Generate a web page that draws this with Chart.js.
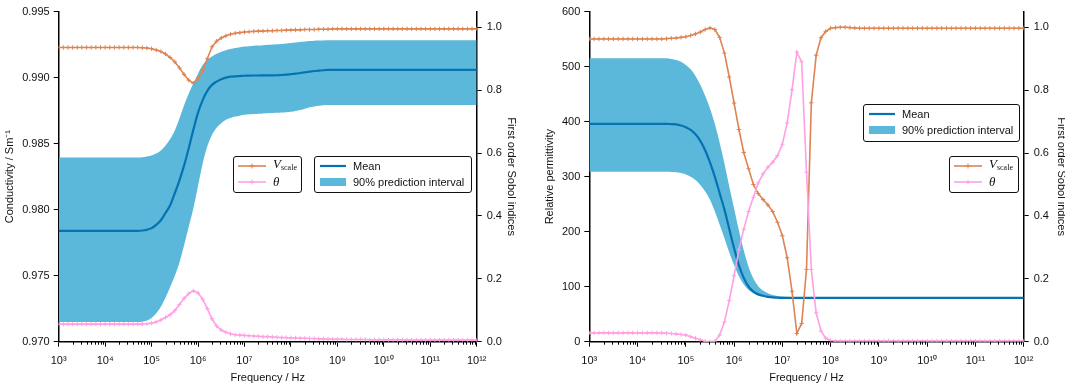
<!DOCTYPE html>
<html>
<head>
<meta charset="utf-8">
<script src="https://cdn.jsdelivr.net/npm/chart.js@4.4.0/dist/chart.umd.min.js"></script>
<style>
  html, body { margin: 0; padding: 0; background: #fff; overflow: hidden; }
  body { width: 1065px; height: 387px; position: relative; font-family: "Liberation Sans", Arial, sans-serif; }
  canvas { position: absolute; top: 0; }
  #cond-chart { left: 0; }
  #perm-chart { left: 539px; }
  .legend { position: absolute; box-sizing: border-box; border: 1.3px solid #111; border-radius: 3px; background: rgba(255,255,255,0.9); }
  .row { position: absolute; left: 0; height: 14px; display: flex; align-items: center; font-size: 11px; color: #111; white-space: nowrap; }
  .row.r1 { top: 2px; }
  .row.r2 { top: 18px; }
  .key { margin-left: 4px; margin-right: 7px; }
  .math { font-family: "Liberation Serif", "DejaVu Serif", serif; font-style: italic; font-size: 13px; line-height: 14px; }
  .math sub { font-style: normal; font-size: 8px; vertical-align: -2px; }
</style>
</head>
<body>
<canvas id="cond-chart" width="522" height="387"></canvas>
<canvas id="perm-chart" width="530" height="387"></canvas>

<div class="legend" style="left:233px;top:156px;width:69px;height:37px">
  <div class="row r1"><svg class="key" width="28" height="10"><line x1="0" y1="5" x2="28" y2="5" stroke="#DD8452" stroke-width="1.6"/><path d="M14 2.5V7.5M11.5 5H16.5" stroke="#DD8452" stroke-width="1"/></svg><span class="math">V<sub>scale</sub></span></div>
  <div class="row r2"><svg class="key" width="28" height="10"><line x1="0" y1="5" x2="28" y2="5" stroke="#FFA0E4" stroke-width="1.6"/><path d="M14 2.5V7.5M11.5 5H16.5" stroke="#FFA0E4" stroke-width="1"/></svg><span class="math">θ</span></div>
</div>
<div class="legend" style="left:314px;top:156px;width:158px;height:37px">
  <div class="row r1"><svg class="key" width="26" height="10" style="margin-left:5px"><line x1="0" y1="5" x2="26" y2="5" stroke="#0573B2" stroke-width="2.2"/></svg><span>Mean</span></div>
  <div class="row r2"><svg class="key" width="26" height="10" style="margin-left:5px"><rect x="0" y="1" width="26" height="8" fill="#5BB8DA"/></svg><span>90% prediction interval</span></div>
</div>

<div class="legend" style="left:863px;top:104px;width:157px;height:38px">
  <div class="row r1"><svg class="key" width="26" height="10" style="margin-left:5px"><line x1="0" y1="5" x2="26" y2="5" stroke="#0573B2" stroke-width="2.2"/></svg><span>Mean</span></div>
  <div class="row r2"><svg class="key" width="26" height="10" style="margin-left:5px"><rect x="0" y="1" width="26" height="8" fill="#5BB8DA"/></svg><span>90% prediction interval</span></div>
</div>
<div class="legend" style="left:949px;top:156px;width:70px;height:37px">
  <div class="row r1"><svg class="key" width="28" height="10"><line x1="0" y1="5" x2="28" y2="5" stroke="#DD8452" stroke-width="1.6"/><path d="M14 2.5V7.5M11.5 5H16.5" stroke="#DD8452" stroke-width="1"/></svg><span class="math">V<sub>scale</sub></span></div>
  <div class="row r2"><svg class="key" width="28" height="10"><line x1="0" y1="5" x2="28" y2="5" stroke="#FFA0E4" stroke-width="1.6"/><path d="M14 2.5V7.5M11.5 5H16.5" stroke="#FFA0E4" stroke-width="1"/></svg><span class="math">θ</span></div>
</div>

<script>
// log10 of frequency (Hz), 10 samples per decade
const logFreq = [
  3.0, 3.1, 3.2, 3.3, 3.4, 3.5, 3.6, 3.7, 3.8, 3.9,
  4.0, 4.1, 4.2, 4.3, 4.4, 4.5, 4.6, 4.7, 4.8, 4.9,
  5.0, 5.1, 5.2, 5.3, 5.4, 5.5, 5.6, 5.7, 5.8, 5.9,
  6.0, 6.1, 6.2, 6.3, 6.4, 6.5, 6.6, 6.7, 6.8, 6.9,
  7.0, 7.1, 7.2, 7.3, 7.4, 7.5, 7.6, 7.7, 7.8, 7.9,
  8.0, 8.1, 8.2, 8.3, 8.4, 8.5, 8.6, 8.7, 8.8, 8.9,
  9.0, 9.1, 9.2, 9.3, 9.4, 9.5, 9.6, 9.7, 9.8, 9.9,
  10.0, 10.1, 10.2, 10.3, 10.4, 10.5, 10.6, 10.7, 10.8, 10.9,
  11.0, 11.1, 11.2, 11.3, 11.4, 11.5, 11.6, 11.7, 11.8, 11.9,
  12.0,
];
const decades = [3, 4, 5, 6, 7, 8, 9, 10, 11, 12];
const minorSteps = [1, 2, 3, 4, 5, 6, 7, 8, 9];
const condTicks = [0.970, 0.975, 0.980, 0.985, 0.990, 0.995];
const permTicks = [0, 100, 200, 300, 400, 500, 600];
const sobolTicks = [0.0, 0.2, 0.4, 0.6, 0.8, 1.0];

// --- conductivity panel ---
const condMean = [
  0.97840, 0.97840, 0.97840, 0.97840, 0.97840, 0.97840, 0.97840, 0.97840, 0.97840, 0.97840,
  0.97840, 0.97840, 0.97840, 0.97840, 0.97840, 0.97840, 0.97840, 0.97840, 0.97842, 0.97848,
  0.97860, 0.97885, 0.97920, 0.97975, 0.98034, 0.98125, 0.98222, 0.98335, 0.98465, 0.98606,
  0.98735, 0.98830, 0.98900, 0.98945, 0.98970, 0.98988, 0.99000, 0.99007, 0.99010, 0.99012,
  0.99014, 0.99015, 0.99016, 0.99016, 0.99017, 0.99017, 0.99017, 0.99018, 0.99020, 0.99022,
  0.99026, 0.99030, 0.99035, 0.99040, 0.99045, 0.99050, 0.99053, 0.99056, 0.99058, 0.99059,
  0.99059, 0.99059, 0.99059, 0.99059, 0.99059, 0.99059, 0.99059, 0.99059, 0.99059, 0.99059,
  0.99059, 0.99059, 0.99059, 0.99059, 0.99059, 0.99059, 0.99059, 0.99059, 0.99059, 0.99059,
  0.99059, 0.99059, 0.99059, 0.99059, 0.99059, 0.99059, 0.99059, 0.99059, 0.99059, 0.99059,
  0.99059,
];
const condUpper = [
  0.98395, 0.98395, 0.98395, 0.98395, 0.98395, 0.98395, 0.98395, 0.98395, 0.98395, 0.98395,
  0.98395, 0.98395, 0.98395, 0.98395, 0.98395, 0.98395, 0.98395, 0.98395, 0.98397, 0.98402,
  0.98410, 0.98425, 0.98448, 0.98485, 0.98535, 0.98600, 0.98690, 0.98790, 0.98880, 0.98955,
  0.99030, 0.99095, 0.99135, 0.99160, 0.99180, 0.99195, 0.99207, 0.99217, 0.99224, 0.99230,
  0.99235, 0.99238, 0.99242, 0.99244, 0.99246, 0.99248, 0.99250, 0.99252, 0.99255, 0.99258,
  0.99262, 0.99266, 0.99270, 0.99274, 0.99277, 0.99279, 0.99281, 0.99282, 0.99283, 0.99283,
  0.99283, 0.99283, 0.99283, 0.99283, 0.99283, 0.99283, 0.99283, 0.99283, 0.99283, 0.99283,
  0.99283, 0.99283, 0.99283, 0.99283, 0.99283, 0.99283, 0.99283, 0.99283, 0.99283, 0.99283,
  0.99283, 0.99283, 0.99283, 0.99283, 0.99283, 0.99283, 0.99283, 0.99283, 0.99283, 0.99283,
  0.99283,
];
const condLower = [
  0.97149, 0.97149, 0.97149, 0.97149, 0.97149, 0.97149, 0.97149, 0.97149, 0.97149, 0.97149,
  0.97149, 0.97149, 0.97149, 0.97149, 0.97149, 0.97149, 0.97149, 0.97149, 0.97152, 0.97160,
  0.97180, 0.97215, 0.97265, 0.97335, 0.97415, 0.97500, 0.97600, 0.97730, 0.97870, 0.98010,
  0.98180, 0.98350, 0.98480, 0.98565, 0.98620, 0.98655, 0.98680, 0.98695, 0.98705, 0.98712,
  0.98718, 0.98722, 0.98725, 0.98727, 0.98729, 0.98731, 0.98732, 0.98733, 0.98735, 0.98738,
  0.98742, 0.98748, 0.98755, 0.98765, 0.98775, 0.98782, 0.98787, 0.98790, 0.98792, 0.98793,
  0.98793, 0.98793, 0.98793, 0.98793, 0.98793, 0.98793, 0.98793, 0.98793, 0.98793, 0.98793,
  0.98793, 0.98793, 0.98793, 0.98793, 0.98793, 0.98793, 0.98793, 0.98793, 0.98793, 0.98793,
  0.98793, 0.98793, 0.98793, 0.98793, 0.98793, 0.98793, 0.98793, 0.98793, 0.98793, 0.98793,
  0.98793,
];
const condVscale = [
  0.936, 0.936, 0.936, 0.936, 0.936, 0.936, 0.936, 0.936, 0.936, 0.936,
  0.936, 0.936, 0.936, 0.936, 0.936, 0.936, 0.936, 0.936, 0.935, 0.934,
  0.932, 0.928, 0.923, 0.915, 0.904, 0.890, 0.871, 0.850, 0.832, 0.822,
  0.837, 0.862, 0.900, 0.938, 0.956, 0.966, 0.973, 0.978, 0.981, 0.983,
  0.985, 0.986, 0.987, 0.988, 0.988, 0.989, 0.989, 0.990, 0.990, 0.991,
  0.991, 0.992, 0.992, 0.993, 0.993, 0.993, 0.994, 0.994, 0.994, 0.995,
  0.995, 0.995, 0.995, 0.995, 0.995, 0.995, 0.995, 0.995, 0.995, 0.995,
  0.995, 0.995, 0.995, 0.995, 0.995, 0.995, 0.995, 0.995, 0.995, 0.995,
  0.995, 0.995, 0.995, 0.995, 0.995, 0.995, 0.995, 0.995, 0.995, 0.995,
  0.995,
];
const condTheta = [
  0.056, 0.056, 0.056, 0.056, 0.056, 0.056, 0.056, 0.056, 0.056, 0.056,
  0.056, 0.056, 0.056, 0.056, 0.056, 0.056, 0.056, 0.056, 0.056, 0.057,
  0.059, 0.063, 0.069, 0.077, 0.086, 0.099, 0.118, 0.138, 0.153, 0.162,
  0.155, 0.135, 0.105, 0.073, 0.050, 0.037, 0.030, 0.025, 0.022, 0.021,
  0.020, 0.019, 0.018, 0.017, 0.016, 0.016, 0.015, 0.014, 0.013, 0.013,
  0.012, 0.012, 0.011, 0.011, 0.010, 0.010, 0.009, 0.009, 0.008, 0.008,
  0.008, 0.008, 0.007, 0.007, 0.007, 0.007, 0.007, 0.006, 0.006, 0.006,
  0.006, 0.006, 0.006, 0.006, 0.006, 0.005, 0.005, 0.005, 0.005, 0.005,
  0.005, 0.005, 0.005, 0.005, 0.005, 0.005, 0.005, 0.005, 0.005, 0.005,
  0.005,
];

// --- permittivity panel ---
const permMean = [
  396, 396, 396, 396, 396, 396, 396, 396, 396, 396,
  396, 396, 396, 396, 396, 396, 396, 395.5, 395, 393,
  390, 385, 377, 365, 348, 326, 300, 270, 240, 205,
  170, 139, 116, 100, 91, 86, 83.5, 81.5, 80.5, 80,
  79.5, 79.5, 79.5, 79.5, 79.5, 79.5, 79.5, 79.5, 79.5, 79.5,
  79.5, 79.5, 79.5, 79.5, 79.5, 79.5, 79.5, 79.5, 79.5, 79.5,
  79.5, 79.5, 79.5, 79.5, 79.5, 79.5, 79.5, 79.5, 79.5, 79.5,
  79.5, 79.5, 79.5, 79.5, 79.5, 79.5, 79.5, 79.5, 79.5, 79.5,
  79.5, 79.5, 79.5, 79.5, 79.5, 79.5, 79.5, 79.5, 79.5, 79.5,
  79.5,
];
const permUpper = [
  515, 515, 515, 515, 515, 515, 515, 515, 515, 515,
  515, 515, 515, 515, 515, 515, 515, 514, 512, 509,
  503, 495, 483, 467, 447, 424, 396, 362, 324, 282,
  242, 202, 166, 136, 115, 101, 93, 88, 85, 83,
  82, 81.5, 81, 80.8, 80.6, 80.5, 80.4, 80.3, 80.2, 80.1,
  80, 80, 80, 80, 80, 80, 80, 80, 80, 80,
  80, 80, 80, 80, 80, 80, 80, 80, 80, 80,
  80, 80, 80, 80, 80, 80, 80, 80, 80, 80,
  80, 80, 80, 80, 80, 80, 80, 80, 80, 80,
  80,
];
const permLower = [
  309, 309, 309, 309, 309, 309, 309, 309, 309, 309,
  309, 309, 309, 309, 309, 309, 309, 308.5, 308, 306.5,
  304, 300, 294, 285, 273, 258, 237, 213, 188, 162,
  139, 119, 104, 94, 88, 84, 82, 80.5, 79.8, 79.3,
  79, 79, 79, 79, 79, 79, 79, 79, 79, 79,
  79, 79, 79, 79, 79, 79, 79, 79, 79, 79,
  79, 79, 79, 79, 79, 79, 79, 79, 79, 79,
  79, 79, 79, 79, 79, 79, 79, 79, 79, 79,
  79, 79, 79, 79, 79, 79, 79, 79, 79, 79,
  79,
];
const permVscale = [
  0.963, 0.963, 0.963, 0.963, 0.963, 0.963, 0.963, 0.963, 0.963, 0.963,
  0.963, 0.963, 0.963, 0.963, 0.963, 0.963, 0.964, 0.965, 0.966, 0.968,
  0.970, 0.974, 0.979, 0.985, 0.993, 0.998, 0.993, 0.968, 0.918, 0.842,
  0.759, 0.675, 0.602, 0.550, 0.500, 0.471, 0.452, 0.435, 0.414, 0.380,
  0.337, 0.267, 0.160, 0.026, 0.058, 0.230, 0.760, 0.911, 0.967, 0.987,
  0.997, 0.999, 1.000, 1.000, 0.999, 0.998, 0.997, 0.997, 0.997, 0.997,
  0.997, 0.997, 0.997, 0.997, 0.997, 0.997, 0.997, 0.997, 0.997, 0.997,
  0.997, 0.997, 0.997, 0.997, 0.997, 0.997, 0.997, 0.997, 0.997, 0.997,
  0.997, 0.997, 0.997, 0.997, 0.997, 0.997, 0.997, 0.997, 0.997, 0.997,
  0.997,
];
const permTheta = [
  0.028, 0.028, 0.028, 0.028, 0.028, 0.028, 0.028, 0.028, 0.028, 0.028,
  0.028, 0.028, 0.028, 0.028, 0.028, 0.028, 0.027, 0.026, 0.025, 0.023,
  0.021, 0.016, 0.011, 0.006, 0.001, 0.000, 0.001, 0.021, 0.063, 0.131,
  0.210, 0.293, 0.358, 0.414, 0.460, 0.505, 0.534, 0.555, 0.571, 0.592,
  0.628, 0.696, 0.801, 0.921, 0.890, 0.539, 0.230, 0.092, 0.034, 0.011,
  0.004, 0.002, 0.002, 0.002, 0.002, 0.002, 0.002, 0.002, 0.002, 0.002,
  0.002, 0.002, 0.002, 0.002, 0.002, 0.002, 0.002, 0.002, 0.002, 0.002,
  0.002, 0.002, 0.002, 0.002, 0.002, 0.002, 0.002, 0.002, 0.002, 0.002,
  0.002, 0.002, 0.002, 0.002, 0.002, 0.002, 0.002, 0.002, 0.002, 0.002,
  0.002,
];

const BAND = '#5BB8DA';
const MEAN = '#0573B2';
const ORANGE = '#DD8452';
const PINK = '#FFA0E4';
const INK = '#111';

const freq = logFreq.map(e => Math.pow(10, e));
const SUP = { '0': '⁰', '1': '¹', '2': '²', '3': '³', '4': '⁴', '5': '⁵', '6': '⁶', '7': '⁷', '8': '⁸', '9': '⁹' };
const sup = n => String(n).split('').map(c => SUP[c]).join('');
const isDecade = v => Math.abs(Math.log10(v) - Math.round(Math.log10(v))) < 1e-6;

// 1..9 x 10^n for every decade, then the last decade on its own
const xTickValues = [];
decades.slice(0, -1).forEach(d => minorSteps.forEach(k => xTickValues.push(k * Math.pow(10, d))));
xTickValues.push(Math.pow(10, decades[decades.length - 1]));

Chart.defaults.font.family = '"Liberation Sans", Arial, sans-serif';
Chart.defaults.font.size = 11;
Chart.defaults.color = INK;

// short outward ticks for the 2..9 positions of the log axis
const minorTickPlugin = {
  id: 'minorTicks',
  afterDraw(chart) {
    const xs = chart.scales.x;
    const ctx = chart.ctx;
    ctx.save();
    ctx.strokeStyle = '#000';
    ctx.lineWidth = 1;
    xs.ticks.forEach(t => {
      if (isDecade(t.value)) return;
      const px = Math.round(xs.getPixelForValue(t.value)) + 0.5;
      ctx.beginPath();
      ctx.moveTo(px, xs.top);
      ctx.lineTo(px, xs.top + 3);
      ctx.stroke();
    });
    ctx.restore();
  },
};

function axisTitle(text, pad) {
  return { display: true, text, color: INK, font: { size: 11 }, padding: pad };
}

function renderPanel(canvasId, o) {
  const canvas = document.getElementById(canvasId);
  const smooth = { pointRadius: 0, cubicInterpolationMode: 'monotone', yAxisID: 'y' };
  const sobol = (label, data, color, order) => ({
    label, data, yAxisID: 'y2', order,
    borderColor: color, borderWidth: 1.6, fill: false,
    pointStyle: 'cross', pointRadius: 2.2, pointBorderWidth: 1, pointBorderColor: color, pointBackgroundColor: color,
  });

  new Chart(canvas, {
    type: 'line',
    data: {
      labels: freq,
      datasets: [
        { label: 'upper', data: o.upper, fill: '+1', backgroundColor: BAND, borderColor: 'rgba(0,0,0,0)', borderWidth: 0, order: 4, ...smooth },
        { label: 'lower', data: o.lower, fill: false, borderColor: 'rgba(0,0,0,0)', borderWidth: 0, order: 5, ...smooth },
        { label: 'Mean', data: o.mean, fill: false, borderColor: MEAN, borderWidth: 2.2, order: 3, ...smooth },
        sobol('Vscale', o.vscale, ORANGE, 1),
        sobol('theta', o.theta, PINK, 0),
      ],
    },
    options: {
      responsive: false,
      animation: false,
      events: [],
      layout: { padding: { top: 7, left: 0, right: 0, bottom: 0 } },
      plugins: { legend: { display: false }, tooltip: { enabled: false } },
      scales: {
        x: {
          type: 'logarithmic', position: 'bottom', min: 1e3, max: 1e12,
          afterBuildTicks: s => { s.ticks = xTickValues.map(v => ({ value: v })); },
          afterFit: s => { s.height = 45.3; },
          border: { color: '#000', width: 1.5 },
          grid: { drawOnChartArea: false, tickLength: 5, tickWidth: 1, color: c => (c.tick && isDecade(c.tick.value)) ? '#000' : 'rgba(0,0,0,0)' },
          ticks: { autoSkip: false, maxRotation: 0, padding: 8, callback: v => isDecade(v) ? '10' + sup(Math.round(Math.log10(v))) : '' },
          title: axisTitle('Frequency / Hz', { top: 0, bottom: 2 }),
        },
        y: {
          position: 'left', min: o.yMin, max: o.yMax,
          afterBuildTicks: s => { s.ticks = o.yTicks.map(v => ({ value: v })); },
          afterFit: s => { s.width = o.leftWidth; },
          border: { color: '#000', width: 1.5 },
          grid: { drawOnChartArea: false, tickLength: 5, tickWidth: 1, color: '#000' },
          ticks: { padding: 4, callback: o.yFormat },
          title: axisTitle(o.yTitle, { top: o.yTitlePad, bottom: 0 }),
        },
        y2: {
          position: 'right', min: 0, max: 1.05,
          afterBuildTicks: s => { s.ticks = sobolTicks.map(v => ({ value: v })); },
          afterFit: s => { s.width = 45.3; },
          border: { color: '#000', width: 1.5 },
          grid: { drawOnChartArea: false, tickLength: 5, tickWidth: 1, color: '#000' },
          ticks: { padding: 5, callback: v => v.toFixed(1) },
          title: axisTitle('First order Sobol indices', { top: o.y2TitlePad, bottom: 0 }),
        },
      },
    },
    plugins: [minorTickPlugin],
  });
}

renderPanel('cond-chart', {
  mean: condMean, upper: condUpper, lower: condLower, vscale: condVscale, theta: condTheta,
  yMin: 0.970, yMax: 0.995, yTicks: condTicks, yFormat: v => v.toFixed(3),
  yTitle: 'Conductivity / Sm⁻¹', yTitlePad: 3, y2TitlePad: 4, leftWidth: 58.7,
});

renderPanel('perm-chart', {
  mean: permMean, upper: permUpper, lower: permLower, vscale: permVscale, theta: permTheta,
  yMin: 0, yMax: 600, yTicks: permTicks, yFormat: v => String(v),
  yTitle: 'Relative permittivity', yTitlePad: 4, y2TitlePad: 1, leftWidth: 50.3,
});
</script>
</body>
</html>
